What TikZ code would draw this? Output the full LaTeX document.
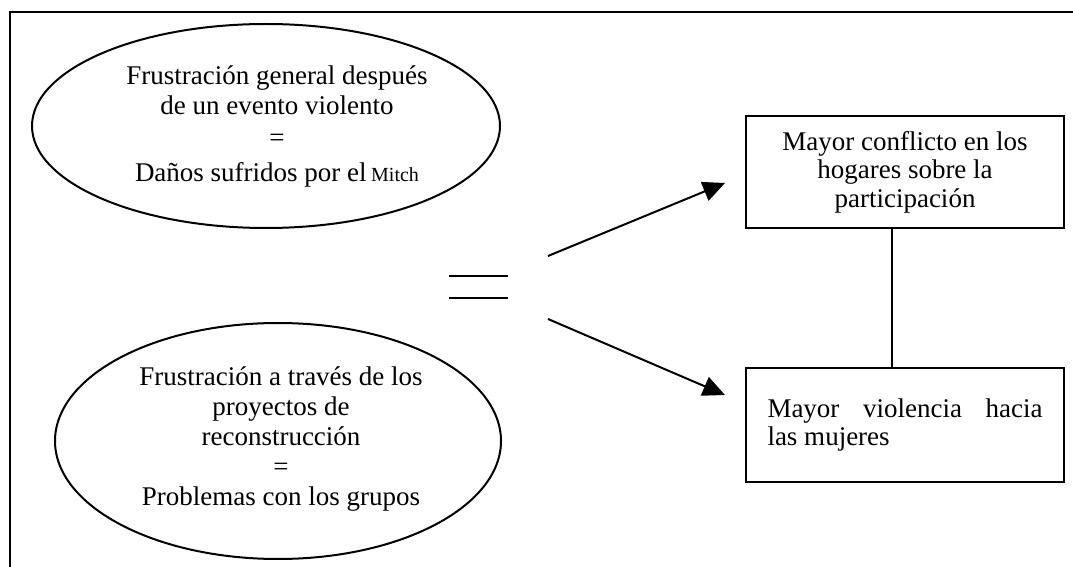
\documentclass[tikz,border=0pt]{standalone}
\usepackage{fontspec}
\setmainfont{Liberation Serif}
\usetikzlibrary{shapes.geometric,arrows.meta}

\begin{document}
\begin{tikzpicture}[x=0.5pt, y=-0.5pt, line width=1pt,
        elli/.style={draw, ellipse, inner sep=0pt},
        caja/.style={draw, minimum width=159pt, inner sep=0pt},
        txt/.style={align=center, font=\fontsize{13.5}{15}\selectfont},
        flecha/.style={-{Triangle[length=11pt, width=10pt]}}]
    \useasboundingbox (0,0) rectangle (1073,567);

    % marco
    \draw (1073,12) -- (10,12) -- (10,567);

    % elipses
    \node[elli, minimum width=234pt, minimum height=102pt] (frus1) at (266,126) {};
    \node[txt] (frus1t) at (277,126) {Frustración general después\\de un evento violento\\[1pt]=\\[2.5pt]Daños sufridos por el\,{\fontsize{10}{12}\selectfont Mitch}};

    \node[elli, minimum width=223pt, minimum height=118pt] (frus2) at (278,441) {};
    \node[txt] (frus2t) at (281,439) {Frustración a través de los\\proyectos de\\reconstrucción\\=\\Problemas con los grupos};

    % signo igual
    \draw (449,276) -- (508,276);
    \draw (449,298) -- (508,298);

    % cajas
    \node[caja, minimum height=56pt, txt, font=\fontsize{13.5}{14.25}\selectfont] (conf) at (905,172) {Mayor conflicto en los\\hogares sobre la\\participación};
    \node[caja, minimum height=57pt, text width=137.5pt, align=justify, font=\fontsize{13.5}{14}\selectfont] (viol) at (905,425) {Mayor violencia hacia\linebreak las mujeres};

    % flechas
    \coordinate (s1) at (548,256);
    \coordinate (t1) at (725,183);
    \coordinate (s2) at (548,319);
    \coordinate (t2) at (725,395);
    \draw[flecha] (s1) -- (t1);
    \draw[flecha] (s2) -- (t2);

    \draw ([xshift=-6.5pt]conf.south) -- ([xshift=-6.5pt]viol.north);
\end{tikzpicture}
\end{document}
